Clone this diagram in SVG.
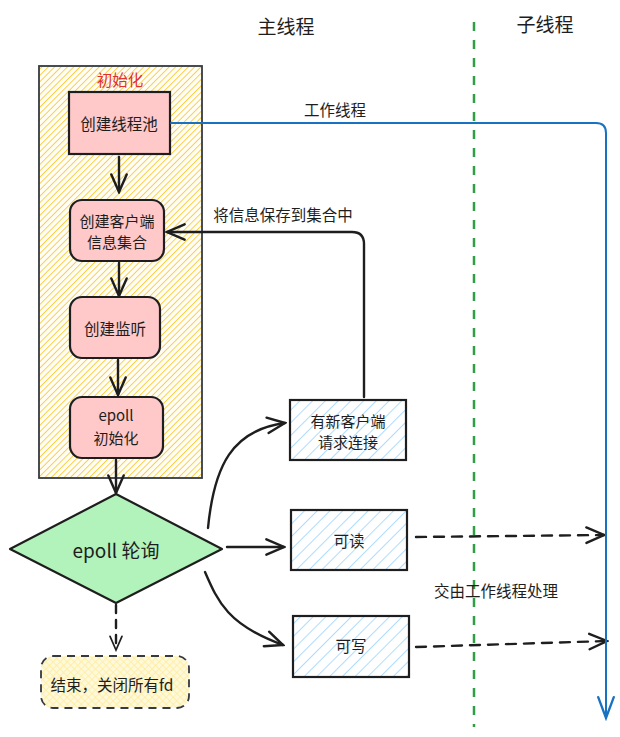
<svg xmlns="http://www.w3.org/2000/svg" width="620" height="737" viewBox="0 0 620 737">
<defs>
<pattern id="hOrange" patternUnits="userSpaceOnUse" width="4.5" height="4.5" patternTransform="rotate(45)">
<rect width="4.5" height="4.5" fill="#fffdf5"/>
<line x1="0" y1="0" x2="0" y2="4.5" stroke="#fcc419" stroke-width="1.5"/>
</pattern>
<pattern id="hBlue" patternUnits="userSpaceOnUse" width="9" height="9" patternTransform="rotate(45)">
<rect width="9" height="9" fill="#ffffff"/>
<line x1="0" y1="0" x2="0" y2="9" stroke="#a5d8ff" stroke-width="1.8"/>
</pattern>
<pattern id="hCross" patternUnits="userSpaceOnUse" width="5" height="5" patternTransform="rotate(45)">
<rect width="5" height="5" fill="#fff9db"/>
<path d="M0 0V5M0 0H5" stroke="#ffec99" stroke-width="1.4"/>
</pattern>
<marker id="arr" viewBox="0 0 20 20" refX="18" refY="10" markerWidth="22" markerHeight="22" markerUnits="userSpaceOnUse" orient="auto">
<path d="M2 3L18 10L2 17" fill="none" stroke="#1e1e1e" stroke-width="2.2" stroke-linecap="round"/>
</marker>
<marker id="arrS" viewBox="0 0 20 20" refX="18" refY="10" markerWidth="17" markerHeight="17" markerUnits="userSpaceOnUse" orient="auto">
<path d="M2 3L18 10L2 17" fill="none" stroke="#1e1e1e" stroke-width="2" stroke-linecap="round"/>
</marker>
<marker id="arrB" viewBox="0 0 20 20" refX="18" refY="10" markerWidth="26" markerHeight="26" markerUnits="userSpaceOnUse" orient="auto">
<path d="M2 4L18 10L2 16" fill="none" stroke="#1971c2" stroke-width="1.8" stroke-linecap="round"/>
</marker>
</defs>
<style>
text{font-family:"Noto Sans CJK SC","Liberation Sans",sans-serif;fill:#1e1e1e;text-anchor:middle;dominant-baseline:central;}
.t16{font-size:15.5px;}
.t15{font-size:15px;}
.t20{font-size:19px;}
.node{stroke:#1e1e1e;stroke-width:2.2;}
.pink{fill:#ffc9c9;}
.blue{fill:url(#hBlue);}
.conn{fill:none;stroke:#1e1e1e;stroke-width:2.4;stroke-linecap:round;}
.dash{stroke-dasharray:10 8;}
</style>

<g id="titles">
<text x="286" y="25" class="t20">主线程</text>
<text x="545" y="23" class="t20">子线程</text>
</g>

<g id="divider">
<line x1="474" y1="22" x2="474" y2="727" stroke="#2f9e44" stroke-width="2.5" stroke-dasharray="9 9"/>
</g>

<g id="init-group">
<rect x="39" y="66" width="163" height="412" fill="url(#hOrange)" stroke="#343a40" stroke-width="1.8"/>
<text x="120" y="79" class="t16" style="fill:#e03131">初始化</text>
</g>

<g id="n-threadpool">
<rect x="69" y="92" width="101" height="62" class="node pink" stroke-width="1.8"/>
<text x="119" y="123" class="t16">创建线程池</text>
</g>

<g id="n-clientset">
<rect x="70" y="200" width="94" height="61" rx="12" class="node pink"/>
<text x="117" y="220" class="t15">创建客户端</text>
<text x="117" y="241" class="t15">信息集合</text>
</g>

<g id="n-listen">
<rect x="70" y="297" width="90" height="61" rx="12" class="node pink"/>
<text x="115" y="328" class="t16">创建监听</text>
</g>

<g id="n-epollinit">
<rect x="70" y="397" width="93" height="61" rx="12" class="node pink"/>
<text x="116" y="414" class="t15">epoll</text>
<text x="116" y="437" class="t15">初始化</text>
</g>

<g id="n-poll">
<polygon points="116,494 222,549 116,603 10,549" fill="#b2f2bb" stroke="#1e1e1e" stroke-width="2.2" stroke-linejoin="round"/>
<text x="116" y="549" class="t20">epoll 轮询</text>
</g>

<g id="n-end">
<rect x="41" y="656" width="148" height="52" rx="12" fill="url(#hCross)" stroke="#343a40" stroke-width="1.8" stroke-dasharray="8 6"/>
<text x="112" y="684" class="t16">结束，关闭所有fd</text>
</g>

<g id="n-newconn">
<rect x="290" y="400" width="116" height="60" class="node blue"/>
<text x="348" y="420" class="t15">有新客户端</text>
<text x="348" y="441" class="t15">请求连接</text>
</g>

<g id="n-read">
<rect x="291" y="510" width="116" height="60" class="node blue"/>
<text x="349" y="540" class="t16">可读</text>
</g>

<g id="n-write">
<rect x="293" y="616" width="116" height="61" class="node blue"/>
<text x="351" y="645" class="t16">可写</text>
</g>

<g id="connectors">
<path d="M119 157V192" class="conn" marker-end="url(#arr)"/>
<path d="M119 263V296" class="conn" marker-end="url(#arr)"/>
<path d="M118 360V395" class="conn" marker-end="url(#arr)"/>
<path d="M116 460V493" class="conn" marker-end="url(#arr)"/>
<path d="M116 605V650" class="conn" stroke-width="1.8" stroke-dasharray="8 7" marker-end="url(#arrS)"/>
<path d="M208 528C214 466 232 430 285 423" class="conn" marker-end="url(#arr)"/>
<path d="M227 547H284" class="conn" marker-end="url(#arr)"/>
<path d="M205 572C218 602 228 625 283 645" class="conn" marker-end="url(#arr)"/>
<path d="M364 397V244Q364 232 352 232H167" class="conn" marker-end="url(#arr)"/>
<path d="M416 537L604 535" class="conn dash" marker-end="url(#arr)"/>
<path d="M416 647L607 641" class="conn dash" marker-end="url(#arr)"/>
<path d="M171 123H596Q606 123 606 133V718" fill="none" stroke="#1971c2" stroke-width="2" stroke-linecap="round" marker-end="url(#arrB)"/>
<text x="335" y="109" class="t16">工作线程</text>
<text x="283" y="214" class="t16">将信息保存到集合中</text>
<text x="496" y="590" class="t16">交由工作线程处理</text>
</g>
</svg>
